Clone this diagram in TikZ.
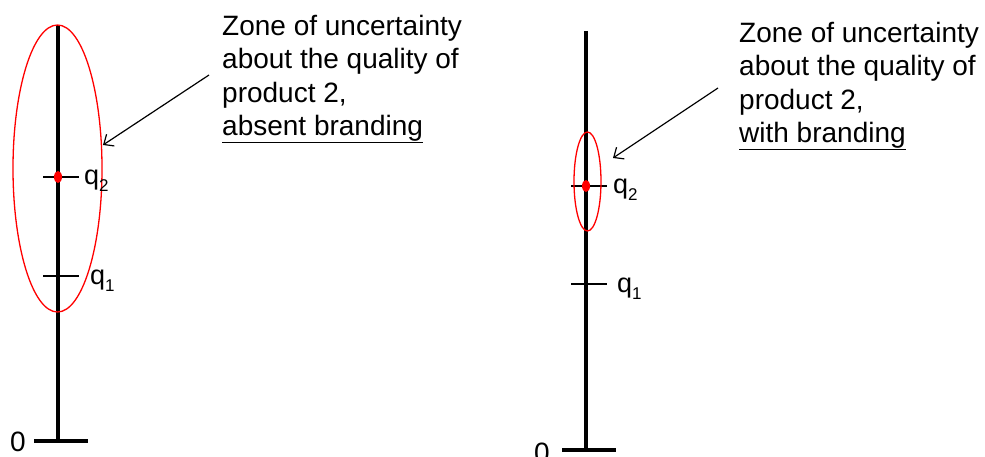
\documentclass[tikz,border=0pt]{standalone}
\usepackage{fontspec}
\setmainfont{Liberation Sans}
\usetikzlibrary{positioning,shapes.geometric,arrows.meta}
\newcommand{\qlab}[1]{q\raisebox{-7pt}{\fontsize{17}{17}\selectfont #1}}
\newcommand{\ulin}[1]{\setbox0\hbox{#1}\leavevmode\rlap{\rule[-7.5pt]{\wd0}{1.5pt}}\box0}

\begin{document}
\begin{tikzpicture}[x=1pt,y=-1pt,>={Straight Barb[length=8pt,width=14pt]},
  axis/.style={line width=3.4pt},
  base/.style={line width=4.5pt},
  qtick/.style={line width=1.8pt},
  zone/.style={ellipse,draw=red,line width=1.3pt,inner sep=0pt},
  dot/.style={ellipse,fill=red,inner sep=0pt,minimum width=8pt,minimum height=12pt},
  qlabel/.style={anchor=base west,inner sep=0pt,font=\fontsize{27}{27}\selectfont},
  zerolabel/.style={anchor=east,inner sep=0pt,font=\fontsize{28}{28}\selectfont},
  note/.style={anchor=north west,align=left,inner sep=0pt,font=\fontsize{28}{33.5}\selectfont},
  arrow/.style={->,line width=1.2pt}]
\useasboundingbox (0,0) rectangle (985,457);

% left: absent branding
\coordinate (topL) at (58,25);
\coordinate (zeroL) at (58,441);
\coordinate (q2L) at (58,177);
\coordinate (q1L) at (58,276);
\draw[axis] (topL) -- (zeroL);
\draw[base] ([xshift=-24pt]zeroL) -- ([xshift=30pt]zeroL);
\draw[qtick] ([xshift=-15pt]q2L) -- ([xshift=21pt]q2L);
\draw[qtick] ([xshift=-15pt]q1L) -- ([xshift=21pt]q1L);
\node[zone,minimum width=89pt,minimum height=287pt] (zoneL) at (57.5,168.5) {};
\node[dot] (dotL) at (q2L) {};
\node[zerolabel] (zlabL) at (26,442) {0};
\node[qlabel] (q2labL) at (84,185) {\qlab{2}};
\node[qlabel] (q1labL) at (90,284) {\qlab{1}};
\node[note] (noteL) at (222,14.6) {Zone of uncertainty\\about the quality of\\product 2,\\\ulin{absent branding}};
\coordinate (fromL) at (209,75);
\coordinate (toL) at (103,145);
\draw[arrow] (fromL) -- (toL);

% right: with branding
\coordinate (topR) at (586,31);
\coordinate (zeroR) at (586,450);
\coordinate (q2R) at (586,186);
\coordinate (q1R) at (586,284);
\draw[axis] (topR) -- (zeroR);
\draw[base] ([xshift=-24pt]zeroR) -- ([xshift=30pt]zeroR);
\draw[qtick] ([xshift=-15pt]q2R) -- ([xshift=21pt]q2R);
\draw[qtick] ([xshift=-15pt]q1R) -- ([xshift=21pt]q1R);
\node[zone,minimum width=27pt,minimum height=99pt] (zoneR) at (587.5,181.5) {};
\node[dot] (dotR) at (q2R) {};
\node[zerolabel] (zlabR) at (550,453) {0};
\node[qlabel] (q2labR) at (613,194) {\qlab{2}};
\node[qlabel] (q1labR) at (617,292) {\qlab{1}};
\node[note] (noteR) at (739,21.6) {Zone of uncertainty\\about the quality of\\product 2,\\\ulin{with branding}};
\coordinate (fromR) at (718,88);
\coordinate (toR) at (613,158);
\draw[arrow] (fromR) -- (toR);
\end{tikzpicture}
\end{document}
